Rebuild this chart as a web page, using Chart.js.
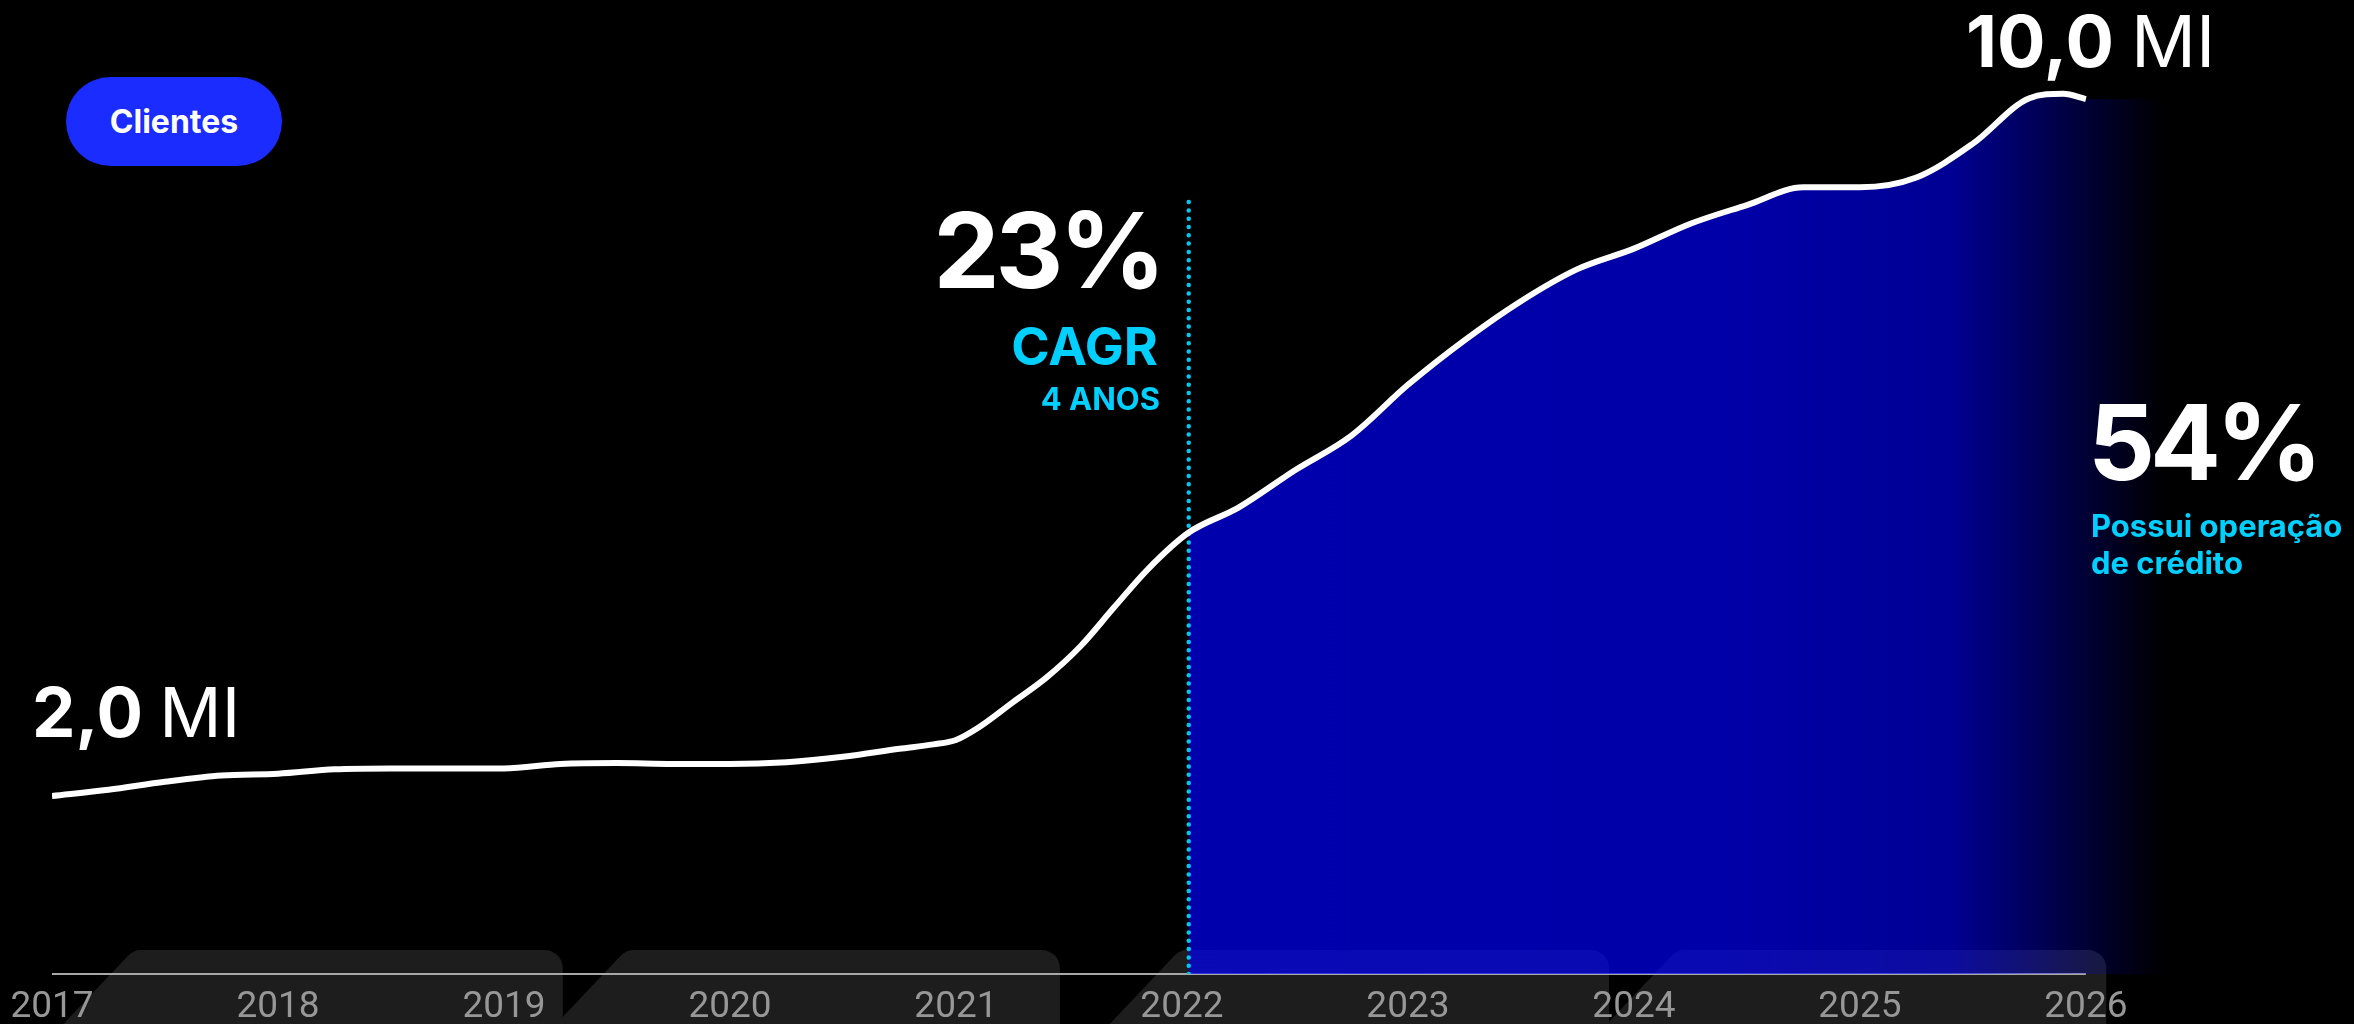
<!DOCTYPE html>
<html lang="pt-BR">
<head>
  <meta charset="UTF-8" />
  <title>Clientes</title>
  <script src="https://cdn.jsdelivr.net/npm/chart.js"></script>
  <style>
    html, body { margin: 0; padding: 0; background: #000; }
    body { width: 2354px; height: 1024px; position: relative; overflow: hidden; font-family: Inter, "Noto Sans", sans-serif; }
    .wrap { position: absolute; left: 0; top: 0; width: 2354px; height: 1024px; }
    .txt { position: absolute; line-height: 1; white-space: nowrap; font-weight: 700; }
    .pill {
      position: absolute; left: 66px; top: 77px; width: 216px; height: 89px;
      border-radius: 45px; background: #1a2cff; color: #fff;
      display: flex; align-items: center; justify-content: center;
      font-weight: 700; font-size: 32px;
    }
    .white { color: #fff; }
    .cyan { color: #00d0ff; }
    .thin { font-weight: 400; }
    .big { letter-spacing: -4px; }
  </style>
</head>
<body>
  <div class="wrap"><canvas id="chart"></canvas></div>

  <div class="pill">Clientes</div>

  <div class="txt white big" style="right:1192px; top:197px; font-size:105px;">23%</div>
  <div class="txt cyan" style="right:1196px; top:321px; font-size:52px;">CAGR</div>
  <div class="txt cyan" style="right:1194px; top:383px; font-size:31px;">4 ANOS</div>

  <div class="txt white" style="left:32px; top:678px; font-size:69px;">2,0 <span class="thin">MI</span></div>
  <div class="txt white" style="left:1966px; top:5px; font-size:72px;">10,0 <span class="thin">MI</span></div>

  <div class="txt white big" style="left:2088px; top:389px; font-size:105px; letter-spacing:-5px;">54%</div>
  <div class="txt cyan" style="left:2091px; top:507px; font-size:31px; line-height:37px;">Possui operação<br>de crédito</div>

  <script>
    // eixo x (anos) e rótulos
    const anos = [2017, 2018, 2019, 2020, 2021, 2022, 2023, 2024, 2025, 2026];

    // clientes (milhões)
    const tempo = [
      2017.00, 2017.25, 2017.50, 2017.75, 2018.00, 2018.25, 2018.50, 2018.75,
      2019.00, 2019.25, 2019.50, 2019.75, 2020.00, 2020.25, 2020.50, 2020.75,
      2020.90, 2021.00, 2021.10, 2021.25, 2021.40, 2021.55, 2021.70, 2021.85,
      2022.03, 2022.25, 2022.50, 2022.75, 2023.00, 2023.25, 2023.50, 2023.75,
      2024.00, 2024.25, 2024.50, 2024.75, 2025.00, 2025.25, 2025.50, 2025.75,
      2025.90, 2026.00
    ];
    const clientes = [
      2.00, 2.07, 2.16, 2.23, 2.25, 2.30, 2.31, 2.31,
      2.31, 2.36, 2.37, 2.36, 2.36, 2.38, 2.44, 2.53,
      2.58, 2.63, 2.77, 3.05, 3.33, 3.68, 4.12, 4.55,
      4.96, 5.24, 5.66, 6.05, 6.62, 7.12, 7.56, 7.92,
      8.15, 8.43, 8.64, 8.84, 8.84, 8.95, 9.33, 9.84,
      9.89, 9.83
    ];

    const inicioCagr = 2022.03;  // linha pontilhada e início da área
    const topoCagr = 8.7;        // altura da linha pontilhada
    const fimArea = 2026.35;     // área continua um pouco além da curva

    const serie = tempo.map((t, i) => ({ x: t, y: clientes[i] }));
    const area = serie.filter(p => p.x >= inicioCagr);
    area.push({ x: fimArea, y: clientes[clientes.length - 1] });

    // abas escuras atrás dos anos (em anos: início do topo, fim)
    const abas = [[2017.36, 2019.26], [2019.54, 2021.46], [2021.99, 2023.89], [2024.19, 2026.09]];

    const abasPlugin = {
      id: 'abas',
      beforeDraw(chart) {
        const { ctx, chartArea, scales } = chart;
        const topo = chartArea.bottom - 24;
        const base = chart.height + 2;
        const run = 70, r = 18;
        ctx.save();
        ctx.fillStyle = '#1d1d1d';
        abas.forEach(([a, b]) => {
          const xl = scales.x.getPixelForValue(a);
          const xr = scales.x.getPixelForValue(b);
          ctx.beginPath();
          ctx.moveTo(xl - run * (base - topo) / 74, base);
          ctx.arcTo(xl, topo, xr, topo, r);
          ctx.arcTo(xr, topo, xr, base, r);
          ctx.lineTo(xr, base);
          ctx.closePath();
          ctx.fill();
        });
        ctx.restore();
      }
    };

    function gradienteArea(context) {
      const { ctx, chartArea, scales } = context.chart;
      if (!chartArea) return 'rgba(0,0,255,0.67)';
      const x0 = scales.x.getPixelForValue(inicioCagr);
      const g = ctx.createLinearGradient(x0, 0, chartArea.right, 0);
      g.addColorStop(0, 'rgba(0,0,255,0.68)');
      g.addColorStop(0.55, 'rgba(0,0,255,0.66)');
      g.addColorStop(0.78, 'rgba(0,0,255,0.58)');
      g.addColorStop(0.93, 'rgba(0,0,255,0.18)');
      g.addColorStop(1, 'rgba(0,0,255,0)');
      return g;
    }

    new Chart(document.getElementById('chart'), {
      type: 'line',
      data: {
        datasets: [
          {
            label: 'Clientes',
            data: serie,
            borderColor: '#fff',
            borderWidth: 6,
            pointRadius: 0,
            cubicInterpolationMode: 'monotone',
            fill: false
          },
          {
            label: 'CAGR',
            data: [{ x: inicioCagr, y: 0 }, { x: inicioCagr, y: topoCagr }],
            borderColor: '#00c8f0',
            borderWidth: 4.5,
            borderDash: [0, 8.3],
            borderCapStyle: 'round',
            pointRadius: 0,
            fill: false
          },
          {
            label: 'Área',
            data: area,
            borderWidth: 0,
            borderColor: 'rgba(0,0,0,0)',
            backgroundColor: gradienteArea,
            pointRadius: 0,
            cubicInterpolationMode: 'monotone',
            fill: 'origin'
          },
          {
            label: 'Eixo',
            data: [{ x: anos[0], y: 0 }, { x: anos[anos.length - 1], y: 0 }],
            borderColor: '#a8a8a8',
            borderWidth: 2,
            pointRadius: 0,
            fill: false,
            clip: false
          }
        ]
      },
      options: {
        responsive: true,
        maintainAspectRatio: false,
        animation: false,
        layout: { padding: { left: 52, right: 189, top: 84, bottom: -18 } },
        plugins: { legend: { display: false }, tooltip: { enabled: false } },
        scales: {
          x: {
            type: 'linear',
            min: anos[0],
            max: fimArea,
            afterBuildTicks: s => { s.ticks = anos.map(v => ({ value: v })); },
            grid: { display: false, drawTicks: false },
            border: { display: false },
            ticks: {
              autoSkip: false,
              maxRotation: 0,
              padding: 6.5,
              color: '#979797',
              font: { family: 'Roboto', size: 37, lineHeight: 1.486 },
              callback: v => String(v)
            }
          },
          y: { display: false, min: 0, max: 10 }
        }
      },
      plugins: [abasPlugin]
    });
  </script>
</body>
</html>
